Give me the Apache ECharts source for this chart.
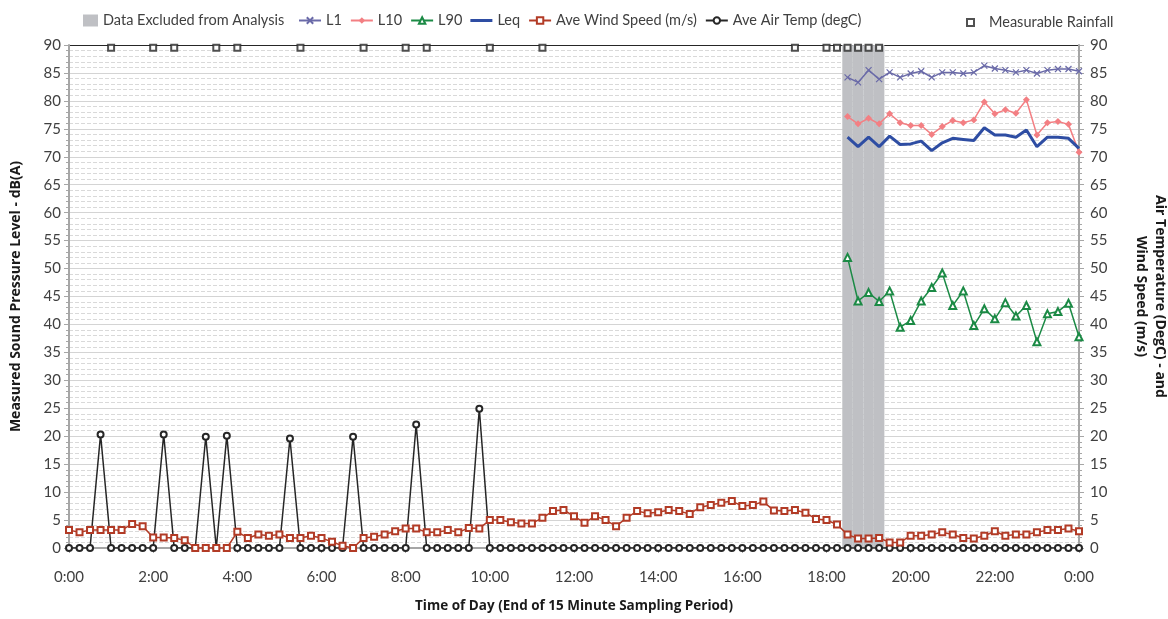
<!DOCTYPE html>
<html>
<head>
<meta charset="utf-8">
<script src="https://cdn.jsdelivr.net/npm/echarts@6/dist/echarts.min.js"></script>
<style>
  html, body { margin: 0; padding: 0; background: #ffffff; }
  #chart { width: 1168px; height: 619px; }
</style>
</head>
<body>
<div id="chart"></div>
<script>
// Sample times: end of each 15-minute period, 0:00 through the following 0:00
const timeLabels = [];
for (let i = 0; i <= 96; i++) {
  const mins = i * 15;
  timeLabels.push((Math.floor(mins / 60) % 24) + ':' + String(mins % 60).padStart(2, '0'));
}

// Periods excluded from analysis
const excludedPeriods = ['18:30', '18:45', '19:00', '19:15'];

// Noise levels, dB(A), logged from 18:30 onwards
const noiseStart = '18:30';
const L1  = [84.2, 83.3, 85.5, 83.9, 85.1, 84.2, 84.9, 85.3, 84.2, 85.1, 85.1, 84.9,
             85.1, 86.3, 85.8, 85.5, 85.1, 85.5, 84.9, 85.5, 85.7, 85.7, 85.3];
const L10 = [77.2, 75.9, 76.9, 75.9, 77.7, 76.1, 75.6, 75.6, 74.0, 75.4, 76.5, 76.1,
             76.6, 79.8, 77.7, 78.4, 77.8, 80.2, 73.9, 76.1, 76.3, 75.8, 70.8];
const L90 = [52.0, 44.2, 45.7, 44.1, 46.0, 39.5, 40.7, 44.2, 46.6, 49.2, 43.4, 46.0,
             39.8, 42.8, 41.0, 43.9, 41.5, 43.4, 36.9, 41.9, 42.3, 43.8, 37.8];
const Leq = [73.5, 71.8, 73.5, 71.8, 73.7, 72.2, 72.3, 72.8, 71.1, 72.5, 73.3, 73.1,
             72.9, 75.2, 73.9, 73.9, 73.5, 74.8, 71.8, 73.5, 73.5, 73.3, 71.5];

// Weather, one value per 15-minute period (0:00 .. 0:00)
const windSpeed = [
  3.2, 2.8, 3.2, 3.2, 3.2, 3.2, 4.3, 3.9, 1.9, 1.9, 1.8, 1.4,
  0.0, 0.0, 0.0, 0.0, 2.9, 1.8, 2.4, 2.2, 2.4, 1.8, 1.8, 2.2,
  1.8, 1.1, 0.4, 0.0, 1.8, 2.0, 2.4, 3.0, 3.5, 3.5, 2.8, 2.8,
  3.2, 2.8, 3.6, 3.5, 5.0, 5.0, 4.6, 4.4, 4.4, 5.4, 6.6, 6.8,
  5.7, 4.5, 5.7, 5.0, 3.9, 5.4, 6.6, 6.2, 6.4, 6.8, 6.6, 6.1,
  7.3, 7.7, 8.1, 8.4, 7.5, 7.7, 8.3, 6.7, 6.6, 6.8, 6.3, 5.2,
  5.0, 4.2, 2.4, 1.7, 1.7, 1.8, 1.0, 1.0, 2.2, 2.2, 2.4, 2.8,
  2.4, 1.8, 1.7, 2.2, 3.0, 2.2, 2.4, 2.4, 2.8, 3.2, 3.2, 3.5,
  3.0
];
const airTemp = [
  0, 0, 0, 20.3, 0, 0, 0, 0, 0, 20.3, 0, 0,
  0, 19.9, 0, 20.1, 0, 0, 0, 0, 0, 19.6, 0, 0,
  0, 0, 0, 19.9, 0, 0, 0, 0, 0, 22.1, 0, 0,
  0, 0, 0, 24.9, 0, 0, 0, 0, 0, 0, 0, 0,
  0, 0, 0, 0, 0, 0, 0, 0, 0, 0, 0, 0,
  0, 0, 0, 0, 0, 0, 0, 0, 0, 0, 0, 0,
  0, 0, 0, 0, 0, 0, 0, 0, 0, 0, 0, 0,
  0, 0, 0, 0, 0, 0, 0, 0, 0, 0, 0, 0,
  0
];

// Periods with measurable rainfall, flagged along the top of the chart
const rainfallPeriods = ['1:00', '2:00', '2:30', '3:30', '4:00', '5:30', '7:00', '8:00',
                         '8:30', '10:00', '11:15', '17:15', '18:00', '18:15', '18:30',
                         '18:45', '19:00', '19:15'];
const rainfallFlagLevel = 89.5;

const axisMax = 90;
const textColor = '#404040';
const labelFont = 'Lato';
const titleFont = '"Open Sans"';

// Place the short noise arrays onto the full day of periods
function alignFrom(startLabel, values) {
  const start = timeLabels.indexOf(startLabel);
  return timeLabels.map((_, i) => (i >= start && i - start < values.length) ? values[i - start] : null);
}
const excludedBars = timeLabels.map((t, i) => (i > 0 && excludedPeriods.includes(t)) ? axisMax : null);
const rainfallData = rainfallPeriods.map(t => [timeLabels.indexOf(t), rainfallFlagLevel]);

// Major split lines are light; the line at the top of the scale is dark
const splitColors = [];
for (let v = 0; v <= axisMax; v += 5) splitColors.push(v === axisMax ? '#262626' : '#d4d4d4');

function valueAxis(position, name, nameGap, nameRotate, labelMargin) {
  return {
    type: 'value', position, min: 0, max: axisMax, interval: 5,
    name, nameLocation: 'middle', nameGap, nameRotate,
    nameTextStyle: { fontFamily: titleFont, fontWeight: 'bold', fontSize: 14, color: '#1a1a1a', lineHeight: 19 },
    axisLine: { show: true, lineStyle: { color: '#a6a6a6', width: 2 } },
    axisTick: { show: true, length: 5, lineStyle: { color: '#a6a6a6' } },
    minorTick: { show: true, splitNumber: 5, length: 3, lineStyle: { color: '#a6a6a6' } },
    axisLabel: { fontFamily: labelFont, fontSize: 15, color: textColor, margin: labelMargin },
    splitLine: { show: position === 'left', lineStyle: { color: splitColors, width: 1 } },
    minorSplitLine: { show: position === 'left', lineStyle: { color: '#d9d9d9', type: [4, 2], width: 1 } }
  };
}

const legendText = { fontFamily: labelFont, fontSize: 14.5, color: textColor };

const chart = echarts.init(document.getElementById('chart'), null, { renderer: 'canvas' });
chart.setOption({
  backgroundColor: '#ffffff',
  animation: false,
  legend: [
    {
      top: 8, left: 78, itemWidth: 15, itemHeight: 12, textStyle: legendText,
      data: [{ name: 'Data Excluded from Analysis', icon: 'rect' }]
    },
    {
      top: 8, left: 293, itemGap: 8, itemWidth: 22, itemHeight: 8, textStyle: legendText,
      data: ['L1', 'L10', 'L90', { name: 'Leq', icon: 'path://M0,0H22V3H0Z' },
             'Ave Wind Speed (m/s)', 'Ave Air Temp (degC)']
    },
    {
      top: 10, left: 961, itemWidth: 7, itemHeight: 7, itemGap: 0,
      textStyle: Object.assign({}, legendText, { padding: [0, 0, 0, 10] }),
      data: ['Measurable Rainfall']
    }
  ],
  grid: { left: 69, right: 89, top: 45, bottom: 71, outerBoundsMode: 'none', containLabel: false },
  xAxis: {
    type: 'category', data: timeLabels, boundaryGap: false,
    name: 'Time of Day (End of 15 Minute Sampling Period)',
    nameLocation: 'middle', nameGap: 51,
    nameTextStyle: { fontFamily: titleFont, fontWeight: 'bold', fontSize: 13.5, color: '#1a1a1a' },
    axisLine: { lineStyle: { color: '#a6a6a6', width: 2 } },
    axisTick: { show: true, interval: 7, length: 5, lineStyle: { color: '#a6a6a6' } },
    axisLabel: { interval: 7, fontFamily: labelFont, fontSize: 15, color: textColor, margin: 22 },
    splitLine: { show: false }
  },
  yAxis: [
    valueAxis('left', 'Measured Sound Pressure Level - dB(A)', 43, 90, 8),
    valueAxis('right', 'Air Temperature (DegC) - and\nWind Speed (m/s)', 52, -90, 11)
  ],
  series: [
    {
      name: 'Data Excluded from Analysis', type: 'bar', data: excludedBars,
      barWidth: '100%', barCategoryGap: '0%', itemStyle: { color: '#bfc0c4' }, z: 1
    },
    {
      name: 'L1', type: 'line', data: alignFrom(noiseStart, L1), showAllSymbol: true,
      symbol: 'path://M0,0L10,10M10,0L0,10', symbolSize: 6,
      itemStyle: { color: '#6a6aa8', borderColor: '#6a6aa8', borderWidth: 1.2 },
      lineStyle: { color: '#6a6aa8', width: 1.5 }, z: 5
    },
    {
      name: 'L10', type: 'line', data: alignFrom(noiseStart, L10), showAllSymbol: true,
      symbol: 'diamond', symbolSize: 7,
      itemStyle: { color: '#f37f83' }, lineStyle: { color: '#f37f83', width: 1.5 }, z: 5
    },
    {
      name: 'L90', type: 'line', data: alignFrom(noiseStart, L90), showAllSymbol: true,
      symbol: 'emptyTriangle', symbolSize: 7,
      itemStyle: { color: '#1b8a45', borderWidth: 1.2 }, lineStyle: { color: '#1b8a45', width: 1.5 }, z: 5
    },
    {
      name: 'Leq', type: 'line', data: alignFrom(noiseStart, Leq),
      symbol: 'none', itemStyle: { color: '#2e4da3' }, lineStyle: { color: '#2e4da3', width: 3 }, z: 5
    },
    {
      name: 'Ave Wind Speed (m/s)', type: 'line', yAxisIndex: 1, data: windSpeed, showAllSymbol: true,
      symbol: 'emptyRect', symbolSize: 6,
      itemStyle: { color: '#b23b26', borderWidth: 1.2 }, lineStyle: { color: '#b23b26', width: 1.5 }, z: 4
    },
    {
      name: 'Ave Air Temp (degC)', type: 'line', yAxisIndex: 1, data: airTemp, showAllSymbol: true,
      symbol: 'emptyCircle', symbolSize: 6,
      itemStyle: { color: '#262626', borderWidth: 1.2 }, lineStyle: { color: '#262626', width: 1.5 }, z: 3
    },
    {
      name: 'Measurable Rainfall', type: 'scatter', data: rainfallData,
      symbol: 'emptyRect', symbolSize: 6,
      itemStyle: { color: '#262626', borderWidth: 1.2 }, z: 6
    }
  ]
});
</script>
</body>
</html>
